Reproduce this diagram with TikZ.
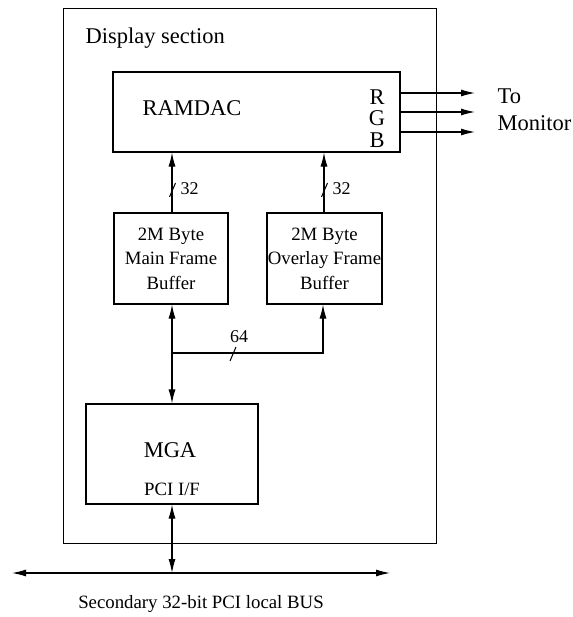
\documentclass[tikz,border=0pt]{standalone}
\usepackage{fontspec}
\setmainfont{Liberation Serif}
\usetikzlibrary{arrows.meta,positioning,calc}

\begin{document}
\begin{tikzpicture}[
    x=1pt, y=-1pt,
    >={Latex[length=14pt,width=7pt]},
    line width=1.1pt,
    blk/.style={rectangle, draw, line width=1.2pt, inner sep=0pt},
    big/.style={font=\fontsize{22.5}{26}\selectfont, inner sep=0pt},
    small/.style={font=\fontsize{18.8}{24.5}\selectfont, inner sep=0pt, align=center},
    tick/.style={font=\fontsize{18}{20}\selectfont, inner sep=0pt},
    slash/.style={line width=1pt},
]
\useasboundingbox (0,0) rectangle (572,617);

% display section frame
\node[blk, line width=1pt, minimum width=373pt, minimum height=534pt] (sect) at (249.5,276) {};
\node[big, anchor=west] (sectlab) at (85,38) {Display section};

% RAMDAC with RGB outputs
\node[blk, minimum width=287pt, minimum height=80pt] (dac) at (256.5,112) {};
\node[big] (daclab) at (192,108) {RAMDAC};
\node[big] (r) at (377,97) {R};
\node[big] (g) at (377,118) {G};
\node[big] (b) at (377,140) {B};
\coordinate (rout) at (475,93);
\coordinate (gout) at (475,112);
\coordinate (bout) at (475,132);
\draw[->] (dac.east |- rout) -- (rout);
\draw[->] (dac.east |- gout) -- (gout);
\draw[->] (dac.east |- bout) -- (bout);
\node[big, anchor=west] (to) at (497,96) {To};
\node[big, anchor=west] (mon) at (497,123) {Monitor};

% frame buffers
\node[blk, small, minimum width=114pt, minimum height=91pt] (mfb) at (171,258.5) {2M Byte\\Main Frame\\Buffer};
\node[blk, small, minimum width=115pt, minimum height=91pt] (ofb) at (324.5,258.5) {2M Byte\\Overlay Frame\\Buffer};
\draw[->] (mfb.north -| 172,0) -- (dac.south -| 172,0);
\draw[->] (ofb.north -| 324,0) -- (dac.south -| 324,0);
\coordinate (s1) at (172.5,190);
\coordinate (s2) at (324.5,190);
\draw[slash] ($(s1)+(-3,7)$) -- ($(s1)+(3,-7)$);
\draw[slash] ($(s2)+(-3,7)$) -- ($(s2)+(3,-7)$);
\node[tick, anchor=west] (w1) at (180,189) {32};
\node[tick, anchor=west] (w2) at (332,189) {32};

% MGA
\node[blk, minimum width=172pt, minimum height=100pt] (mga) at (172,454) {};
\node[big] (mgalab) at (170,450) {MGA};
\node[small] (pci) at (172,489) {PCI I/F};

% 64-bit path
\coordinate (jn) at (172,353);
\draw[<->] (mfb.south -| jn) -- (mga.north -| jn);
\draw[->] (jn) -| (ofb.south -| 323,0);
\coordinate (s3) at (233,354);
\draw[slash] ($(s3)+(-3,7)$) -- ($(s3)+(3,-7)$);
\node[tick] (w3) at (239,337) {64};

% secondary PCI bus
\coordinate (busl) at (12,573);
\coordinate (busr) at (390,573);
\draw[<->] (busl) -- (busr);
\draw[<->] (mga.south -| jn) -- (jn |- busl);
\node[small] (buslab) at (201,604) {Secondary 32-bit PCI local BUS};
\end{tikzpicture}
\end{document}
